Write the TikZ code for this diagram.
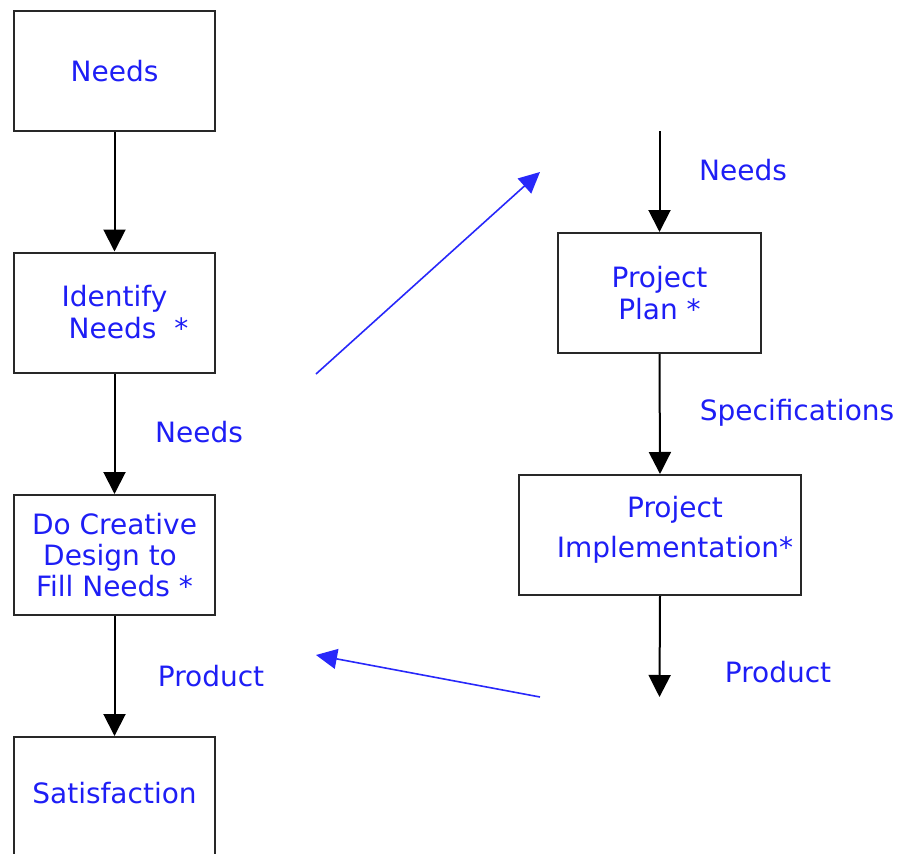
\documentclass[tikz,border=0pt]{standalone}
\usepackage{fontspec}
\setmainfont{DejaVu Sans}
\usetikzlibrary{arrows.meta}
\definecolor{txtblue}{RGB}{30,30,245}
\definecolor{boxgray}{RGB}{40,40,40}
\definecolor{arrblue}{RGB}{40,40,250}
\begin{document}
\begin{tikzpicture}[x=1pt,y=-1pt,
  every node/.style={font=\fontsize{28}{32}\selectfont, text=txtblue},
  stepbox/.style={draw=boxgray, line width=2pt, minimum width=201pt, minimum height=120pt, inner sep=0pt, align=center},
  lbl/.style={anchor=base, inner sep=0pt},
  flow/.style={draw=black, line width=2pt, -{Triangle[length=22pt,width=22pt]}},
  link/.style={draw=arrblue, line width=1.6pt, -{Triangle[length=21pt,width=20pt]}}
]
\useasboundingbox (0,0) rectangle (898,854);
\begin{scope}
\clip (0,0) rectangle (898,854);
% left column
\node[stepbox] (needs) at (114.5,71) {Needs};
\node[stepbox] (ident) at (114.5,312.5) {Identify\\ \quad Needs~~*};
\node[stepbox, font=\fontsize{28}{31}\selectfont] (design) at (114.5,555) {Do Creative\\Design to~~\\ Fill Needs *};
\node[stepbox, text depth=8pt] (satis) at (114.5,797) {Satisfaction};
% right column
\node[stepbox, minimum width=203pt] (plan) at (659.5,293) {Project\\ Plan *};
\node[stepbox, minimum width=282pt] (impl) at (660,535) {};
\node[align=center, font=\fontsize{28}{40}\selectfont, inner sep=0pt] (impltext) at (675,530) {Project\\Implementation*};
\coordinate (rtop) at (659.5,131);
\coordinate (rbot) at (659.5,697);
\draw[flow] (needs.south) -- (ident.north);
\draw[flow] (ident.south) -- (design.north);
\draw[flow] (design.south) -- (satis.north);
\draw[flow] (rtop) -- (plan.north);
\draw[flow] (plan.south) -- (impl.north);
\draw[flow] (impl.south) -- (rbot);
% labels
\node[lbl] (lneeds) at (199,442) {Needs};
\node[lbl] (lprod) at (211,686) {Product};
\node[lbl] (rneeds) at (743,180) {Needs};
\node[lbl] (rspec) at (797,420) {Specifications};
\node[lbl] (rprod) at (778,682) {Product};
% blue links
\coordinate (b1s) at (316,374);
\coordinate (b1e) at (540,172);
\coordinate (b2s) at (540,697);
\coordinate (b2e) at (316,655);
\draw[link] (b1s) -- (b1e);
\draw[link] (b2s) -- (b2e);
\end{scope}
\end{tikzpicture}
\end{document}
